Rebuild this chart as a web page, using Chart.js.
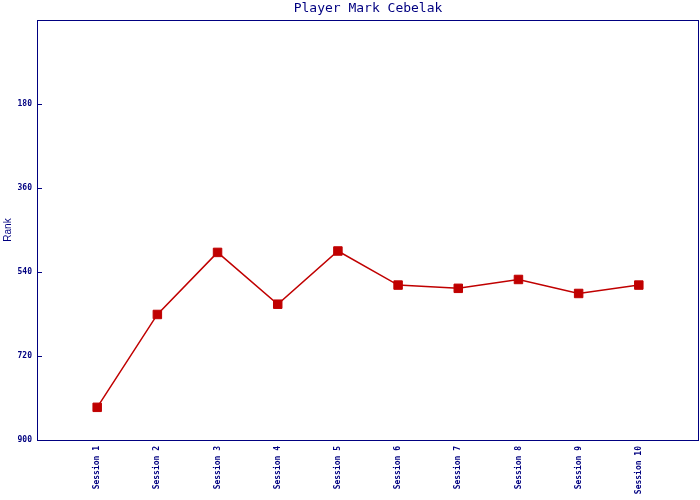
<!DOCTYPE html>
<html>
<head>
<meta charset="utf-8">
<script src="https://cdn.jsdelivr.net/npm/chart.js@4/dist/chart.umd.min.js"></script>
<style>
  body { margin: 0; background: #fff; }
</style>
</head>
<body>
<canvas id="rankChart" width="700" height="500"></canvas>
<script>
const sessions = ['Session 1', 'Session 2', 'Session 3', 'Session 4', 'Session 5',
                  'Session 6', 'Session 7', 'Session 8', 'Session 9', 'Session 10'];
const ranks = [830, 631, 498, 609, 495, 568, 575, 556, 586, 568];
const rankTicks = [180, 360, 540, 720, 900];

const navy = '#000080';
const red = '#c00000';

// frame round the plot and short inward ticks on the y axis
const framePlugin = {
    id: 'frame',
    afterDraw(chart) {
        const ctx = chart.ctx;
        const a = chart.chartArea;
        const y = chart.scales.y;
        ctx.save();
        ctx.strokeStyle = navy;
        ctx.lineWidth = 1;
        ctx.strokeRect(Math.round(a.left) + 0.5, Math.round(a.top) + 0.5,
                       Math.round(a.right - a.left) - 1, Math.round(a.bottom - a.top));
        rankTicks.forEach(v => {
            const py = Math.round(y.getPixelForValue(v)) + 0.5;
            ctx.beginPath();
            ctx.moveTo(a.left, py);
            ctx.lineTo(a.left + 5, py);
            ctx.stroke();
        });
        ctx.restore();
    }
};

const points = ranks.map((r, i) => ({ x: i + 1, y: r }));

const ctx = document.getElementById('rankChart').getContext('2d');
const rankChart = new Chart(ctx, {
    type: 'line',
    data: {
        datasets: [{
            label: 'Rank',
            data: points,
            borderColor: red,
            backgroundColor: red,
            borderWidth: 1.5,
            pointStyle: 'rect',
            pointRadius: 6,
            pointBorderWidth: 1,
            pointBorderColor: red,
            pointBackgroundColor: red,
            tension: 0
        }]
    },
    options: {
        responsive: false,
        animation: false,
        layout: { autoPadding: false, padding: { right: 1, left: 0, top: 0, bottom: 0 } },
        scales: {
            x: {
                type: 'linear',
                min: 0,
                max: 11,
                border: { display: false },
                grid: { display: false, drawTicks: false },
                ticks: {
                    stepSize: 1,
                    autoSkip: false,
                    minRotation: 90,
                    maxRotation: 90,
                    padding: 6,
                    color: navy,
                    font: { family: 'DejaVu Sans Mono', size: 8, weight: 'bold' },
                    callback: v => sessions[v - 1] || ''
                },
                afterFit: s => { s.height = 60; s.paddingLeft = 0; s.paddingRight = 0; }
            },
            y: {
                reverse: true,
                min: 0,
                max: 900,
                border: { display: false },
                grid: { display: false, drawTicks: false },
                ticks: {
                    stepSize: 180,
                    padding: 5,
                    color: navy,
                    font: { family: 'DejaVu Sans Mono', size: 8, weight: 'bold' },
                    callback: v => v === 0 ? '' : v
                },
                title: {
                    display: true,
                    text: 'Rank',
                    color: navy,
                    padding: { top: 2, bottom: 0 },
                    font: { family: 'Liberation Sans', size: 10 }
                },
                afterFit: s => { s.width = 37; s.paddingTop = 0; s.paddingBottom = 0; }
            }
        },
        plugins: {
            legend: { display: false },
            tooltip: { enabled: false },
            title: {
                display: true,
                fullSize: false,
                text: 'Player Mark Cebelak',
                color: navy,
                padding: { top: 1, bottom: 3.4 },
                font: { family: 'DejaVu Sans Mono', size: 13, weight: 'normal', lineHeight: 1.2 }
            }
        }
    },
    plugins: [framePlugin]
});
</script>
</body>
</html>
